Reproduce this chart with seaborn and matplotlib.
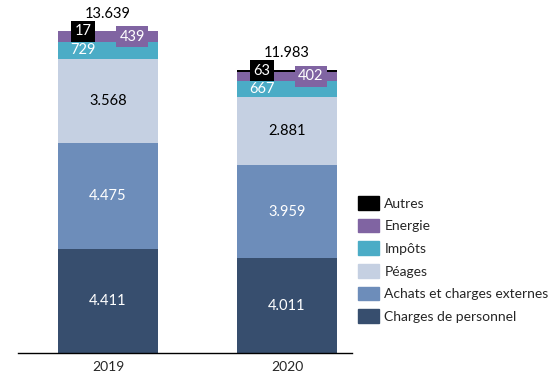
import matplotlib
matplotlib.use("Agg")
import matplotlib.pyplot as plt
import matplotlib.patches as mpatches
import seaborn as sns
import numpy as np

years = ["2019", "2020"]
categories = ["Charges de personnel", "Achats et charges externes", "Péages",
              "Impôts", "Energie", "Autres"]
personnel = [4411, 4011]
achats = [4475, 3959]
peages = [3568, 2881]
impots = [729, 667]
energie = [439, 402]
autres = [17, 63]
totals = [13639, 11983]

colors = ["#374E6E", "#6D8DBA", "#C5D0E2", "#4BACC6", "#8064A2", "#000000"]
text_colors = ["white", "white", "black", "white", "white", "white"]


def fmt(v):
    return f"{v:,}".replace(",", ".")


sns.set_style("white")
plt.rcParams["font.family"] = ["Lato", "DejaVu Sans"]

fig = plt.figure(figsize=(5.57, 3.80), dpi=100)
ax = fig.add_axes([18 / 557, 27 / 380, 334 / 557, 353 / 380])

series = [personnel, achats, peages, impots, energie, autres]
cum = np.cumsum(np.array(series), axis=0)

# on dessine du haut vers le bas pour empiler
for i in range(len(series) - 1, -1, -1):
    sns.barplot(x=years, y=cum[i], color=colors[i], width=0.559,
                saturation=1, ax=ax, edgecolor="none")

ax.set_xlim(-0.503, 1.363)
ax.set_ylim(0, 353 / 0.02361)

offsets = [0, 0, 0, -0.14, 0.134, -0.14]
for j in range(len(years)):
    for i, s in enumerate(series):
        y = cum[i][j] - s[j] / 2
        x = j + offsets[i]
        if i >= 4:
            ax.text(x, y, fmt(s[j]), ha="center", va="center", fontsize=10.5,
                    color="white",
                    bbox=dict(facecolor=colors[i], edgecolor="none", pad=2.5))
        else:
            ax.text(x, y, fmt(s[j]), ha="center", va="center", fontsize=10.5,
                    color=text_colors[i])
    ax.text(j, totals[j] + 430, fmt(totals[j]), ha="center", va="bottom",
            fontsize=10.5, color="black")

for sp in ["top", "right", "left"]:
    ax.spines[sp].set_visible(False)
ax.spines["bottom"].set_color("black")
ax.spines["bottom"].set_linewidth(1)
ax.set_yticks([])
ax.set_xlabel("")
ax.set_ylabel("")
ax.tick_params(axis="x", length=0, labelsize=10, pad=6)

handles = [mpatches.Patch(color=colors[i], label=categories[i])
           for i in range(len(categories) - 1, -1, -1)]
fig.legend(handles=handles, loc="upper left",
           bbox_to_anchor=(358 / 557, 1 - 196 / 380), frameon=False,
           fontsize=10, handlelength=1.5, handleheight=1.15,
           labelspacing=0.64, handletextpad=0.4, borderpad=0, borderaxespad=0)

fig.savefig("out.png", dpi=100)
